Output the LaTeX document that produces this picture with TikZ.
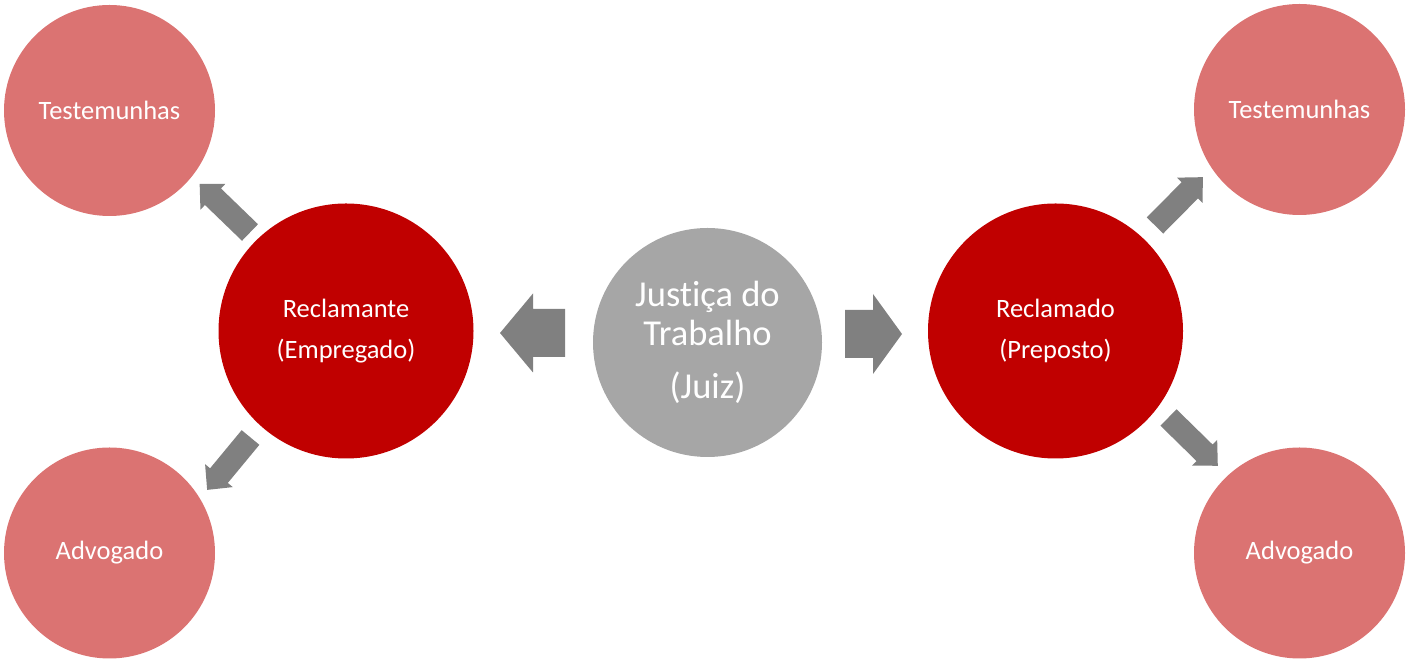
\documentclass[tikz,border=0pt]{standalone}
\usepackage{fontspec}
\setmainfont[Ligatures=NoCommon]{Carlito}
\definecolor{lightred}{HTML}{DB7372}
\definecolor{darkred}{HTML}{C00000}
\definecolor{judgegray}{HTML}{A6A6A6}
\definecolor{arrowgray}{HTML}{808080}
\newcommand{\blockarr}[7]{%
  \fill[blockarrow, shift={(#1,#2)}, rotate=#3]
    (0,-#5) -- (#4-#7,-#5) -- (#4-#7,-#6) -- (#4,0) -- (#4-#7,#6) -- (#4-#7,#5) -- (0,#5) -- cycle;}
\begin{document}
\begin{tikzpicture}[x=1pt,y=1pt,
  party/.style={circle, draw=none, inner sep=0pt, text=white, align=center,
    font=\fontsize{26.5}{41}\selectfont},
  helper/.style={party, fill=lightred, minimum size=211pt},
  mainparty/.style={party, fill=darkred, minimum size=255pt},
  judge/.style={party, fill=judgegray, minimum size=229pt, font=\fontsize{36.5}{39}\selectfont},
  blockarrow/.style={fill=arrowgray}]
\useasboundingbox (0,0) rectangle (1409,663);
\node[helper] (tl) at (109.5,552.5) {Testemunhas};
\node[helper] (bl) at (109.5,110) {Advogado};
\node[mainparty] (rec) at (346,332) {Reclamante\\(Empregado)};
\node[judge] (juiz) at (707.5,320.5) {Justi\kern0pt ça do\\Trabalho\\[14pt](Juiz)};
\node[mainparty] (rdo) at (1055.5,332) {Reclamado\\(Preposto)};
\node[helper] (tr) at (1299.5,553.5) {Testemunhas};
\node[helper] (br) at (1299.5,110) {Advogado};
% big arrows
\blockarr{565}{330}{180}{65}{24}{39.5}{33}
\blockarr{845}{329}{0}{57}{24}{40}{29}
% small arrows
\blockarr{250}{430.5}{136}{70}{11.5}{18}{18.5}
\blockarr{250.5}{225.5}{230.4}{68}{11.5}{18}{18.5}
\blockarr{1155}{437.5}{45.3}{68}{11.5}{18}{18.5}
\blockarr{1168.5}{245.5}{-44.4}{69}{11.5}{18}{18.5}
\end{tikzpicture}
\end{document}
